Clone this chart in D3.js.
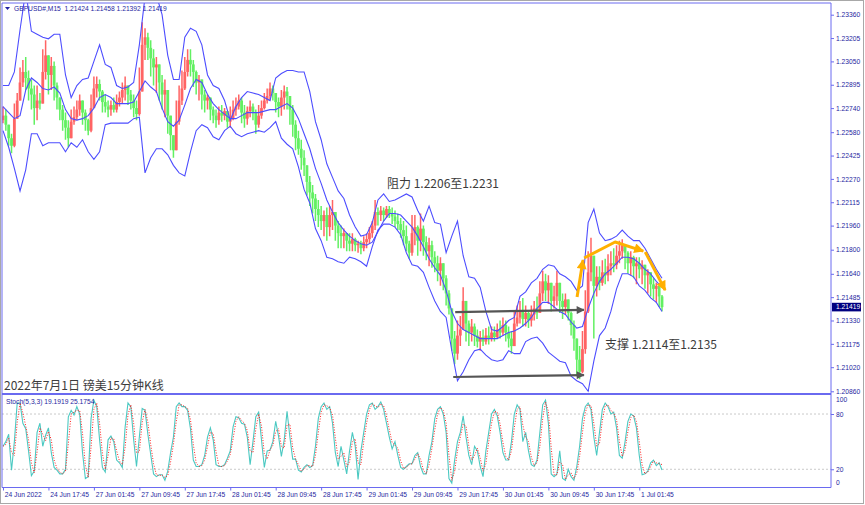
<!DOCTYPE html>
<html><head><meta charset="utf-8">
<script src="https://cdn.jsdelivr.net/npm/d3@7"></script>
<style>
html,body{margin:0;padding:0;background:#fff;}
svg{display:block;}
</style></head><body>
<svg id="c" width="865" height="505"></svg>
<script>
// ---------- DATA ----------
const symbolHeader = "GBPUSD#,M15  1.21424 1.21458 1.21392 1.21419";
const stochHeader = "Stoch(5,3,3) 19.1919 25.1754";
const lastPrice = 1.21419;
const firstOpen = 1.2266;
const closes = [
1.2269,1.2263,1.2254,1.2249,1.2267,1.2279,1.2291,1.2298,1.2294,1.2287,
1.2283,1.2274,1.2279,1.2277,1.2298,1.2309,1.2296,1.2302,1.2289,1.2281,
1.2273,1.2266,1.2261,1.2254,1.2265,1.2268,1.2273,1.2279,1.2271,1.2266,
1.2259,1.2274,1.2287,1.2290,1.2285,1.2278,1.2275,1.2273,1.2276,1.2273,
1.2278,1.2281,1.2286,1.2289,1.2283,1.2279,1.2274,1.2270,1.2285,1.2316,
1.2321,1.2314,1.2307,1.2301,1.2303,1.2291,1.2283,1.2286,1.2269,1.2256,
1.2246,1.2265,1.2279,1.2287,1.2298,1.2306,1.2303,1.2298,1.2291,1.2293,
1.2283,1.2279,1.2281,1.2273,1.2269,1.2266,1.2271,1.2269,1.2272,1.2265,
1.2267,1.2273,1.2275,1.2279,1.2271,1.2267,1.2272,1.2275,1.2271,1.2263,
1.2269,1.2274,1.2279,1.2282,1.2287,1.2284,1.2278,1.2275,1.2281,1.2285,
1.2282,1.2273,1.2263,1.2254,1.2247,1.2241,1.2236,1.2225,1.2218,1.2214,
1.2207,1.2203,1.2199,1.2203,1.2195,1.2203,1.2205,1.2196,1.2191,1.2189,
1.2191,1.2186,1.2184,1.2187,1.2183,1.2184,1.2181,1.2185,1.2187,1.2191,
1.2196,1.2205,1.2203,1.2206,1.2203,1.2207,1.2204,1.2202,1.2199,1.2197,
1.2193,1.2189,1.2184,1.2178,1.2191,1.2195,1.2186,1.2194,1.2185,1.2179,
1.2183,1.2175,1.2171,1.2166,1.2171,1.2161,1.2151,1.2141,1.2121,1.2111,
1.2123,1.2127,1.2146,1.2131,1.2125,1.2129,1.2123,1.2119,1.2122,1.2119,
1.2123,1.2121,1.2125,1.2122,1.2127,1.2125,1.2130,1.2125,1.2121,1.2116,
1.2131,1.2135,1.2139,1.2134,1.2138,1.2133,1.2137,1.2141,1.2138,1.2151,
1.2159,1.2153,1.2158,1.2146,1.2149,1.2158,1.2146,1.2142,1.2147,1.2138,
1.2130,1.2121,1.2107,1.2099,1.2114,1.2139,1.2165,1.2176,1.2156,1.2162,
1.2158,1.2165,1.2163,1.2169,1.2171,1.2170,1.2176,1.2179,1.2183,1.2178,
1.2171,1.2175,1.2169,1.2171,1.2167,1.2170,1.2163,1.2165,1.2157,1.2154,
1.2156,1.2149,1.21419];
const highs = [
1.2275,1.2273,1.2263,1.2257,1.2277,1.2284,1.2301,1.2306,1.2308,1.2299,
1.2293,1.2289,1.2289,1.2284,1.2313,1.2319,1.2309,1.2308,1.2305,1.2291,
1.2281,1.2276,1.2271,1.2266,1.2273,1.2275,1.2279,1.2283,1.2279,1.2273,
1.2267,1.2283,1.2295,1.2295,1.2293,1.2286,1.2283,1.2279,1.2279,1.2281,
1.2283,1.2285,1.2291,1.2295,1.2289,1.2286,1.2283,1.2279,1.2301,1.2331,
1.2327,1.2324,1.2319,1.2313,1.2308,1.2301,1.2296,1.2293,1.2283,1.2269,
1.2256,1.2279,1.2289,1.2299,1.2308,1.2313,1.2313,1.2306,1.2299,1.2296,
1.2291,1.2286,1.2283,1.2281,1.2275,1.2273,1.2275,1.2276,1.2274,1.2271,
1.2275,1.2279,1.2281,1.2283,1.2281,1.2276,1.2275,1.2279,1.2277,1.2273,
1.2276,1.2279,1.2284,1.2287,1.2291,1.2289,1.2284,1.2281,1.2286,1.2289,
1.2288,1.2279,1.2276,1.2266,1.2259,1.2253,1.2246,1.2236,1.2229,1.2223,
1.2217,1.2213,1.2209,1.2206,1.2208,1.2209,1.2213,1.2203,1.2199,1.2196,
1.2194,1.2191,1.2191,1.2191,1.2188,1.2186,1.2186,1.2189,1.2191,1.2195,
1.2199,1.2213,1.2208,1.2209,1.2208,1.2209,1.2209,1.2208,1.2206,1.2204,
1.2201,1.2199,1.2196,1.2186,1.2203,1.2203,1.2196,1.2204,1.2196,1.2189,
1.2188,1.2186,1.2179,1.2176,1.2175,1.2169,1.2163,1.2153,1.2133,1.2126,
1.2133,1.2136,1.2155,1.2146,1.2133,1.2134,1.2131,1.2127,1.2126,1.2127,
1.2128,1.2129,1.2129,1.2129,1.2131,1.2133,1.2135,1.2133,1.2129,1.2126,
1.2139,1.2143,1.2146,1.2148,1.2143,1.2139,1.2143,1.2146,1.2149,1.2159,
1.2166,1.2164,1.2163,1.2155,1.2156,1.2166,1.2153,1.2151,1.2151,1.2146,
1.2139,1.2133,1.2119,1.2116,1.2126,1.2153,1.2179,1.2188,1.2171,1.2169,
1.2169,1.2173,1.2174,1.2177,1.2179,1.2181,1.2183,1.2186,1.2187,1.2183,
1.2179,1.2179,1.2176,1.2175,1.2175,1.2173,1.2169,1.2167,1.2164,1.2161,
1.2158,1.2154,1.2150];
const lows = [
1.2264,1.2259,1.2249,1.2244,1.2248,1.2267,1.2279,1.2288,1.2286,1.2279,
1.2273,1.2263,1.2266,1.2273,1.2277,1.2293,1.2283,1.2286,1.2279,1.2273,
1.2266,1.2259,1.2253,1.2248,1.2254,1.2263,1.2266,1.2269,1.2263,1.2259,
1.2256,1.2258,1.2274,1.2281,1.2279,1.2271,1.2271,1.2268,1.2269,1.2271,
1.2271,1.2275,1.2277,1.2279,1.2276,1.2273,1.2268,1.2266,1.2269,1.2285,
1.2306,1.2306,1.2295,1.2289,1.2284,1.2279,1.2273,1.2268,1.2257,1.2246,
1.2241,1.2246,1.2263,1.2276,1.2286,1.2295,1.2295,1.2288,1.2283,1.2279,
1.2273,1.2271,1.2273,1.2266,1.2264,1.2261,1.2263,1.2265,1.2266,1.2261,
1.2261,1.2266,1.2269,1.2273,1.2264,1.2261,1.2263,1.2268,1.2266,1.2257,
1.2261,1.2267,1.2273,1.2277,1.2279,1.2279,1.2271,1.2268,1.2269,1.2273,
1.2273,1.2263,1.2255,1.2246,1.2243,1.2233,1.2229,1.2216,1.2209,1.2204,
1.2199,1.2195,1.2193,1.2189,1.2186,1.2189,1.2193,1.2186,1.2181,1.2181,
1.2181,1.2179,1.2179,1.2179,1.2179,1.2178,1.2177,1.2179,1.2181,1.2184,
1.2188,1.2193,1.2196,1.2199,1.2199,1.2201,1.2201,1.2197,1.2195,1.2193,
1.2188,1.2183,1.2179,1.2174,1.2176,1.2183,1.2176,1.2179,1.2176,1.2173,
1.2169,1.2168,1.2165,1.2159,1.2156,1.2153,1.2143,1.2137,1.2113,1.2104,
1.2107,1.2116,1.2128,1.2119,1.2116,1.2119,1.2116,1.2115,1.2113,1.2116,
1.2117,1.2117,1.2119,1.2119,1.2121,1.2121,1.2123,1.2119,1.2115,1.2111,
1.2116,1.2129,1.2131,1.2129,1.2129,1.2128,1.2129,1.2133,1.2134,1.2138,
1.2146,1.2146,1.2144,1.2139,1.2141,1.2143,1.2138,1.2134,1.2137,1.2133,
1.2123,1.2113,1.2096,1.2094,1.2098,1.2111,1.2138,1.2159,1.2121,1.2149,
1.2153,1.2156,1.2157,1.2159,1.2163,1.2165,1.2167,1.2171,1.2174,1.2167,
1.2164,1.2163,1.2161,1.2157,1.2161,1.2157,1.2154,1.2151,1.2149,1.2147,
1.2145,1.2142,1.21392];
// Bollinger bands, one value every 2 candles
const bandStep = 2;
const bandUpper = [
1.2289,1.2289,1.2298,1.2326,1.2352,1.2325,1.2323,1.2321,1.2320,1.2323,
1.2323,1.2296,1.2281,1.2289,1.2293,1.2294,1.2305,1.2316,1.2303,1.2301,
1.2289,1.2287,1.2288,1.2291,1.2316,1.2348,1.2350,1.2349,1.2336,1.2309,
1.2293,1.2293,1.2321,1.2327,1.2325,1.2316,1.2296,1.2289,1.2287,1.2279,
1.2266,1.2275,1.2281,1.2285,1.2284,1.2283,1.2281,1.2279,1.2294,1.2297,
1.2299,1.2299,1.2298,1.2298,1.2285,1.2265,1.2253,1.2237,1.2228,1.2219,
1.2214,1.2203,1.2195,1.2189,1.2190,1.2198,1.2213,1.2217,1.2212,1.2213,
1.2215,1.2217,1.2215,1.2206,1.2199,1.2209,1.2198,1.2197,1.2178,1.2189,
1.2199,1.2176,1.2162,1.2161,1.2155,1.2139,1.2127,1.2126,1.2129,1.2133,
1.2135,1.2149,1.2152,1.2158,1.2161,1.2167,1.2170,1.2169,1.2164,1.2162,
1.2159,1.2153,1.2156,1.2198,1.2207,1.2191,1.2186,1.2187,1.2189,1.2193,
1.2189,1.2186,1.2186,1.2181,1.2174,1.2167,1.2161];
const bandMiddle = [
1.2275,1.2271,1.2267,1.2269,1.2286,1.2294,1.2291,1.2287,1.2286,1.2288,
1.2284,1.2273,1.2267,1.2266,1.2267,1.2269,1.2274,1.2281,1.2283,1.2281,
1.2277,1.2277,1.2277,1.2278,1.2285,1.2292,1.2288,1.2285,1.2274,1.2265,
1.2262,1.2266,1.2276,1.2287,1.2293,1.2291,1.2283,1.2277,1.2273,1.2270,
1.2267,1.2267,1.2269,1.2271,1.2271,1.2271,1.2272,1.2273,1.2273,1.2275,
1.2277,1.2274,1.2267,1.2257,1.2247,1.2234,1.2224,1.2213,1.2205,1.2198,
1.2193,1.2189,1.2186,1.2184,1.2183,1.2185,1.2192,1.2199,1.2204,1.2204,
1.2203,1.2199,1.2195,1.2189,1.2182,1.2174,1.2168,1.2163,1.2153,1.2139,
1.2131,1.2127,1.2125,1.2123,1.2121,1.2121,1.2121,1.2121,1.2123,1.2125,
1.2126,1.2128,1.2131,1.2135,1.2141,1.2145,1.2145,1.2142,1.2139,1.2137,
1.2132,1.2128,1.2129,1.2141,1.2151,1.2159,1.2164,1.2167,1.2171,1.2175,
1.2175,1.2174,1.2171,1.2167,1.2164,1.2159,1.2155];
const bandLower = [
1.2259,1.2248,1.2234,1.2219,1.2233,1.2257,1.2257,1.2249,1.2251,1.2251,
1.2251,1.2245,1.2251,1.2248,1.2253,1.2245,1.2240,1.2245,1.2263,1.2264,
1.2264,1.2264,1.2264,1.2267,1.2268,1.2231,1.2241,1.2247,1.2247,1.2243,
1.2236,1.2231,1.2229,1.2245,1.2259,1.2263,1.2261,1.2255,1.2253,1.2259,
1.2262,1.2257,1.2255,1.2257,1.2258,1.2259,1.2258,1.2261,1.2265,1.2254,
1.2250,1.2247,1.2235,1.2220,1.2211,1.2194,1.2186,1.2175,1.2174,1.2172,
1.2171,1.2175,1.2174,1.2172,1.2169,1.2182,1.2193,1.2197,1.2197,1.2195,
1.2190,1.2178,1.2170,1.2169,1.2165,1.2155,1.2146,1.2139,1.2135,1.2113,
1.2093,1.2099,1.2107,1.2113,1.2114,1.2110,1.2107,1.2106,1.2107,1.2113,
1.2111,1.2111,1.2119,1.2121,1.2122,1.2118,1.2112,1.2109,1.2106,1.2105,
1.2096,1.2093,1.2091,1.2086,1.2106,1.2123,1.2128,1.2139,1.2154,1.2164,
1.2164,1.2162,1.2156,1.2153,1.2148,1.2145,1.2139];
const stochMain = [
45,50,58,19,50,92,92,70,64,40, 13,18,60,70,45,57,65,38,22,19,
15,15,20,77,84,79,88,80,38,10, 12,75,95,88,52,22,17,52,56,50,
30,27,22,66,92,88,52,23,55,86, 84,58,36,15,12,14,14,8,18,38,
55,88,92,88,88,84,64,30,23,23, 25,35,55,65,52,25,23,23,25,32,
40,66,77,76,70,69,55,25,50,77, 82,52,22,40,41,50,72,56,34,52,
83,55,31,31,19,17,22,25,22,24, 45,75,88,92,85,88,70,38,23,45,
30,15,40,60,45,9,40,60,80,90, 92,85,88,93,85,70,55,42,50,35,
22,20,23,26,26,35,38,23,15,15, 35,50,75,85,88,80,60,10,5,30,
50,60,78,55,35,25,45,40,23,12, 40,60,80,85,78,60,38,30,30,50,
80,90,85,50,60,40,25,23,30,60, 90,95,70,15,12,15,40,10,8,20,
12,8,23,45,75,88,92,85,55,35, 60,85,92,88,80,82,65,35,32,50,
72,80,78,65,35,14,15,18,27,30, 24,27,19.19];
const stochSignal = [
45,47,54,38,35,71,92,81,67,52, 27,16,39,65,58,51,61,52,30,21,
17,15,18,48,80,82,84,84,59,24, 11,44,85,92,70,37,20,35,54,53,
40,29,25,44,79,90,70,38,39,71, 85,71,47,26,14,13,14,11,13,28,
47,72,90,90,88,86,74,47,27,23, 24,30,45,60,59,39,24,23,24,29,
36,53,72,77,73,70,62,40,38,64, 80,67,37,31,41,46,61,64,45,43,
68,69,43,31,25,18,20,24,24,23, 35,60,82,90,89,87,79,54,31,34,
38,23,28,50,53,27,25,50,70,85, 91,89,87,91,89,78,63,49,46,43,
29,21,22,25,26,31,37,31,19,15, 25,43,63,80,87,84,70,35,8,18,
40,55,69,67,45,30,35,43,32,18, 26,50,70,83,82,69,49,34,30,40,
65,85,88,68,55,50,33,24,27,45, 75,93,83,43,14,14,28,25,9,14,
16,10,16,34,60,82,90,89,70,45, 48,73,89,90,84,81,74,50,34,41,
61,76,79,72,50,25,15,17,23,29, 27,26,25.18];
const priceTicks = [1.23360,1.23205,1.23050,1.22895,1.22740,1.22580,1.22425,1.22270,1.22115,1.21960,1.21800,1.21640,1.21485,1.21330,1.21175,1.21020,1.20860];
const timeTickIndex = [0,16,32,48,64,80,96,112,128,144,160,176,192,208,224];
const timeLabels = ["24 Jun 2022","24 Jun 17:45","27 Jun 01:45","27 Jun 09:45","27 Jun 17:45","28 Jun 01:45","28 Jun 09:45","28 Jun 17:45","29 Jun 01:45","29 Jun 09:45","29 Jun 17:45","30 Jun 01:45","30 Jun 09:45","30 Jun 17:45","1 Jul 01:45"];
const stochLevels = [80,20];
// annotations (candle index, price)
const grayArrows = [
  [[159.2,1.21386],[204.5,1.21400]],
  [[158.5,1.20955],[204.5,1.20968]]
];
const orangeArrows = [
  [[202.1,1.21486],[204.2,1.21732]],
  [[204.6,1.21745],[215.5,1.21851],[225.4,1.21791]],
  [[226.1,1.21785],[233.1,1.21532]]
];
const titleText = "2022年7月1日 镑美15分钟K线";
const resistText = "阻力 1.2206至1.2231";
const supportText = "支撑 1.2114至1.2135";

// ---------- LAYOUT ----------
const svg = d3.select("#c");
const plotL = 2, plotR = 831, mainT = 3, mainB = 393.5, stT = 395.5, stB = 487.5;
const FRAME = "#6a6af0", TXT = "#1e1ea0";
const RED = "#ff6464", GREEN = "#62f062";
const SMALL = "font-family:'Liberation Sans',Arial,sans-serif;font-size:6.7px;";

const x = d3.scaleLinear().domain([0, closes.length - 1]).range([3, 662]);
const y = d3.scaleLinear().domain([1.20860, 1.23360]).range([391.3, 14.7]);
const ys = d3.scaleLinear().domain([0, 100]).range([487.7, 395.6]);

const defs = svg.append("defs");
defs.append("clipPath").attr("id","clipMain").append("rect")
  .attr("x",plotL).attr("y",mainT).attr("width",plotR-plotL).attr("height",mainB-mainT);
defs.append("clipPath").attr("id","clipSt").append("rect")
  .attr("x",plotL).attr("y",stT).attr("width",plotR-plotL).attr("height",stB-stT);
function marker(id,color,w,h){
  defs.append("marker").attr("id",id).attr("viewBox","0 0 10 10").attr("refX",9).attr("refY",5)
    .attr("markerWidth",w).attr("markerHeight",h).attr("orient","auto").attr("markerUnits","userSpaceOnUse")
    .append("path").attr("d","M0,0 L10,5 L0,10 z").attr("fill",color);
}
marker("mGray","#555555",10,8);
marker("mOrange","#ffb000",11,10);

// window border
svg.append("rect").attr("x",0.5).attr("y",0.5).attr("width",863).attr("height",503)
  .attr("fill","#fff").attr("stroke","#a8a8a8");

// stoch levels
const gSt = svg.append("g");
gSt.selectAll("line.lvl").data(stochLevels).join("line")
  .attr("x1",plotL).attr("x2",plotR).attr("y1",d=>ys(d)).attr("y2",d=>ys(d))
  .attr("stroke","#bdbdbd").attr("stroke-dasharray","2,2").attr("stroke-width",0.8);

// candles
const candles = closes.map((c,i)=>{
  const o = i ? closes[i-1] : firstOpen;
  return {i,o,c,h:Math.max(highs[i],o,c),l:Math.min(lows[i],o,c)};
});
const gC = svg.append("g").attr("clip-path","url(#clipMain)");
gC.selectAll("line.wick").data(candles).join("line").attr("class","wick")
  .attr("x1",d=>x(d.i)).attr("x2",d=>x(d.i)).attr("y1",d=>y(d.h)).attr("y2",d=>y(d.l))
  .attr("stroke",d=>d.c>=d.o?RED:GREEN).attr("stroke-width",1.5);
gC.selectAll("rect.body").data(candles).join("rect").attr("class","body")
  .attr("x",d=>x(d.i)-1.4).attr("width",2.8)
  .attr("y",d=>y(Math.max(d.o,d.c)))
  .attr("height",d=>Math.max(1.2,Math.abs(y(d.o)-y(d.c))))
  .attr("fill",d=>d.c>=d.o?RED:GREEN);

// bands
const bandLine = d3.line().x((d,k)=>x(k*bandStep)).y(d=>y(d));
[bandUpper,bandMiddle,bandLower].forEach(b=>{
  gC.append("path").datum(b).attr("d",bandLine).attr("fill","none")
    .attr("stroke","#4d4dff").attr("stroke-width",1.1);
});

// stochastic
const gS = svg.append("g").attr("clip-path","url(#clipSt)");
const stLine = d3.line().x((d,i)=>x(i)).y(d=>ys(d));
gS.append("path").datum(stochMain).attr("d",stLine).attr("fill","none")
  .attr("stroke","#4cc9c2").attr("stroke-width",1.1);
gS.append("path").datum(stochSignal).attr("d",stLine).attr("fill","none")
  .attr("stroke","#ff2020").attr("stroke-width",1).attr("stroke-dasharray","1,1.6");

// annotations
const annLine = d3.line().x(d=>x(d[0])).y(d=>y(d[1]));
const gA = svg.append("g");
grayArrows.forEach(a=>{
  gA.append("path").datum(a).attr("d",annLine).attr("fill","none")
    .attr("stroke","#555555").attr("stroke-width",2.2).attr("marker-end","url(#mGray)");
});
orangeArrows.forEach(a=>{
  gA.append("path").datum(a).attr("d",annLine).attr("fill","none")
    .attr("stroke","#ffb000").attr("stroke-width",3).attr("stroke-linejoin","round")
    .attr("marker-end","url(#mOrange)");
});

// frame lines
const gF = svg.append("g").attr("stroke",FRAME).attr("fill","none");
gF.append("line").attr("x1",plotL).attr("x2",plotR).attr("y1",mainT).attr("y2",mainT);
gF.append("line").attr("x1",plotL).attr("x2",plotL).attr("y1",mainT).attr("y2",stB);
gF.append("line").attr("x1",plotR).attr("x2",plotR).attr("y1",mainT).attr("y2",stB);
gF.append("line").attr("x1",plotL).attr("x2",plotR).attr("y1",mainB+0.5).attr("y2",mainB+0.5).attr("stroke-width",2.2);
gF.append("line").attr("x1",plotL).attr("x2",plotR).attr("y1",stB).attr("y2",stB);

// price axis
const gY = svg.append("g").attr("transform",`translate(${plotR},0)`)
  .call(d3.axisRight(y).tickValues(priceTicks).tickSize(3).tickPadding(2).tickFormat(d3.format(".5f")));
gY.select(".domain").remove();
gY.selectAll(".tick line").attr("stroke",FRAME);
gY.selectAll(".tick text").attr("style",SMALL).attr("fill",TXT);

// current price label
svg.append("rect").attr("x",plotR+1).attr("y",y(lastPrice)-4.3).attr("width",29).attr("height",8.6).attr("fill","#000080");
svg.append("text").attr("x",plotR+5).attr("y",y(lastPrice)).attr("dy","0.34em")
  .attr("style",SMALL).attr("fill","#fff").text(d3.format(".5f")(lastPrice));

// stoch axis
const gYS = svg.append("g").attr("transform",`translate(${plotR},0)`)
  .call(d3.axisRight(ys).tickValues(stochLevels).tickSize(3).tickPadding(2).tickFormat(d3.format("d")));
gYS.select(".domain").remove();
gYS.selectAll(".tick line").attr("stroke",FRAME);
gYS.selectAll(".tick text").attr("style",SMALL).attr("fill",TXT);
svg.append("text").attr("x",plotR+5).attr("y",ys(100)+4.5).attr("dy","0.34em").attr("style",SMALL).attr("fill",TXT).text("100");
svg.append("text").attr("x",plotR+5).attr("y",ys(0)-4.5).attr("dy","0.34em").attr("style",SMALL).attr("fill",TXT).text("0");

// time axis
const gX = svg.append("g").attr("transform",`translate(0,${stB})`)
  .call(d3.axisBottom(x).tickValues(timeTickIndex).tickSize(3).tickPadding(2).tickFormat((d,i)=>timeLabels[i]));
gX.select(".domain").remove();
gX.selectAll(".tick line").attr("stroke",FRAME);
gX.selectAll(".tick text").attr("style",SMALL).attr("fill",TXT).attr("text-anchor","start").attr("dx","0.2em");

// headers
svg.append("path").attr("d","M5,7 L10,7 L7.5,10 z").attr("fill",TXT);
svg.append("text").attr("x",14).attr("y",9).attr("dy","0.34em").attr("style",SMALL).attr("fill",TXT)
  .attr("xml:space","preserve").text(symbolHeader);
svg.append("text").attr("x",6).attr("y",402).attr("dy","0.34em").attr("style",SMALL).attr("fill",TXT).text(stochHeader);

// chinese labels
const CJK = "font-family:'Noto Sans CJK SC','Noto Sans',sans-serif;font-size:12px;";
svg.append("text").attr("x",387).attr("y",184).attr("dy","0.35em").attr("style",CJK).attr("fill","#3c3c3c").text(resistText);
svg.append("text").attr("x",605).attr("y",345).attr("dy","0.35em").attr("style",CJK).attr("fill","#3c3c3c").text(supportText);
svg.append("text").attr("x",4).attr("y",386).attr("dy","0.35em").attr("style",CJK).attr("fill","#3c3c3c").text(titleText);
</script>
</body></html>
